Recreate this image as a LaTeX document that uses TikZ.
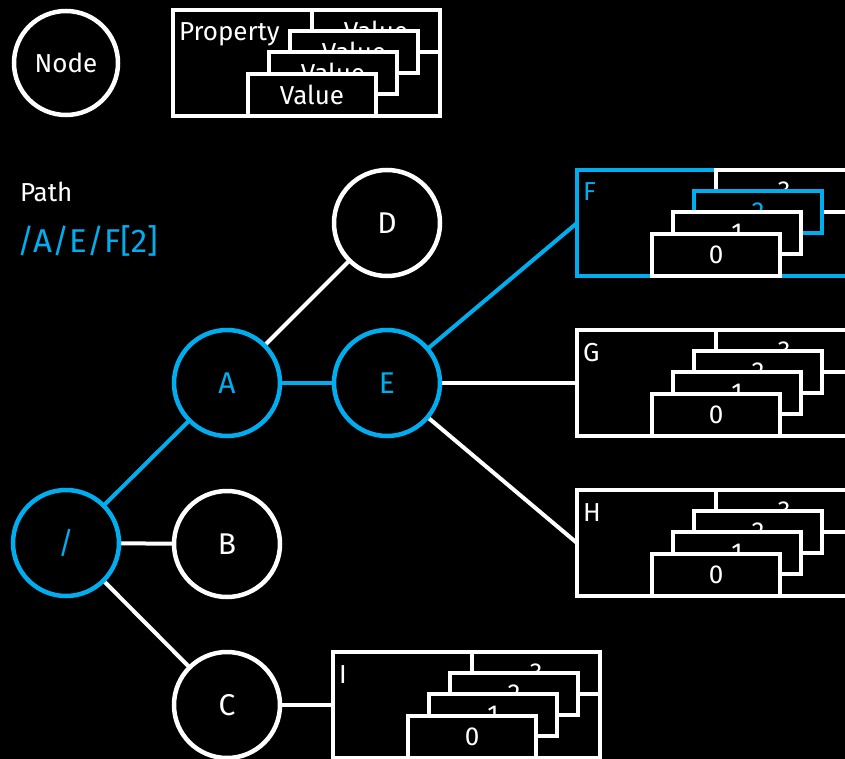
\documentclass[tikz,border=0pt]{standalone}
\usepackage{fontspec}
\setmainfont{Fira Sans}
\usetikzlibrary{backgrounds}
\definecolor{hl}{HTML}{00AEEF}
\tikzset{
  circ/.style={circle, draw=white, line width=4.5pt, fill=black, minimum size=106pt, inner sep=0pt, outer sep=0pt, text=white, font=\fontsize{30}{36}\selectfont},
  conn/.style={draw=white, line width=4pt},
  outerbox/.style={rectangle, fill=black, line width=4.5pt, minimum height=106pt, inner sep=0pt, outer sep=0pt},
  card/.style={rectangle, draw=white, fill=black, line width=4.5pt, minimum height=42pt, minimum width=128pt, inner sep=0pt, outer sep=0pt, text=white, font=\fontsize{26}{30}\selectfont},
  lbl/.style={anchor=base west, inner sep=0pt, outer sep=0pt, text=white, font=\fontsize{26}{30}\selectfont},
}
\newcommand\valtxt[1]{Value}
\newcommand\numtxt[1]{#1}
\newcommand\pbox[8]{%
  \node[outerbox, draw=#6, anchor=north west, minimum width=#4pt] (#1) at (#2,#3) {};
  \node[lbl, text=#6] (#1-l) at (#2+6,#3+31) {#5};
  \node[card, anchor=north west, minimum width={#4pt-139pt}] (#1-3) at (#2+139,#3) {#8{3}};
  \node[card, draw=#7, text=#7, anchor=north west] (#1-2) at (#2+117,#3+21) {#8{2}};
  \node[card, anchor=north west] (#1-1) at (#2+96,#3+42) {#8{1}};
  \node[card, anchor=north west] (#1-0) at (#2+75,#3+64) {#8{0}};
}
\begin{document}
\begin{tikzpicture}[x=1pt,y=-1pt]
\useasboundingbox (0,0) rectangle (845,759);
\clip (0,0) rectangle (845,759);
\begin{scope}[on background layer]
  \fill[black] (0,0) rectangle (845,759);
\end{scope}

% legend
\node[circ, minimum size=104pt, font=\fontsize{26}{30}\selectfont] (legend) at (66,63) {Node};
\pbox{prop}{173}{10}{267}{Property}{white}{white}{\valtxt}

% path text
\node[lbl] (pathlbl) at (20,202) {Path};
\node[lbl, text=hl, font=\fontsize{33}{40}\selectfont] (pathval) at (17,252) {/A/E/F[2]};

% tree nodes
\node[circ, draw=hl, text=hl] (root) at (66,543) {/};
\node[circ, draw=hl, text=hl] (A) at (227,383) {A};
\node[circ] (B) at (227,544) {B};
\node[circ] (C) at (227,705) {C};
\node[circ] (D) at (387,223) {D};
\node[circ, draw=hl, text=hl] (E) at (387,383) {E};

% property boxes
\pbox{F}{577}{170}{275}{F}{hl}{hl}{\numtxt}
\pbox{G}{577}{330}{275}{G}{white}{white}{\numtxt}
\pbox{H}{577}{490}{275}{H}{white}{white}{\numtxt}
\pbox{I}{333}{652}{267}{I}{white}{white}{\numtxt}

% connectors
\begin{scope}[on background layer]
  \draw[conn, draw=hl] (root) -- (A);
  \draw[conn] (root) -- (B);
  \draw[conn] (root) -- (C);
  \draw[conn] (A) -- (D);
  \draw[conn, draw=hl] (A) -- (E);
  \draw[conn, draw=hl] (E) -- (F.west);
  \draw[conn] (E) -- (G.west);
  \draw[conn] (E) -- (H.west);
  \draw[conn] (C) -- (I.west);
\end{scope}
\end{tikzpicture}
\end{document}
